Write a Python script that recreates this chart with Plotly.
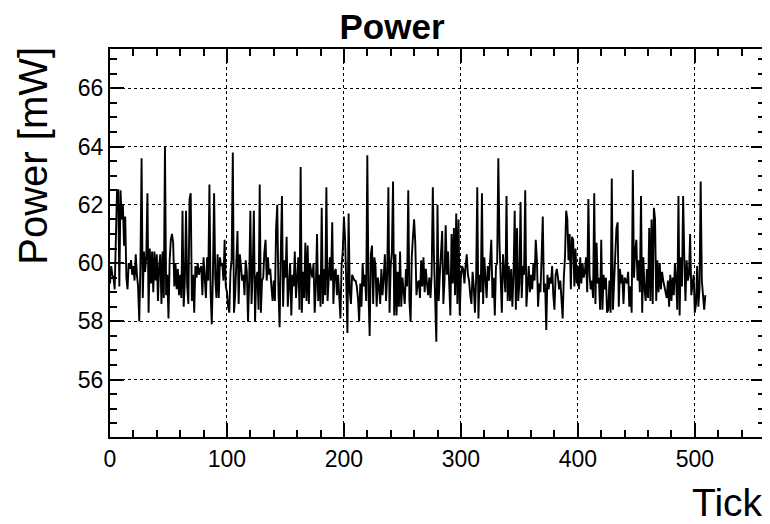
import plotly.graph_objects as go

# power readings per tick (10 per row)
power_mw = [
    59.3, 59.9, 59.6, 59.5, 59.1, 60.4, 62.5, 62.5, 59.2, 62.5,
    61.5, 62.0, 60.6, 61.6, 59.5, 59.1, 60.0, 59.8, 60.1, 59.6,
    59.9, 59.4, 60.3, 59.6, 59.2, 58.0, 59.9, 63.6, 58.8, 60.4,
    59.7, 60.2, 62.4, 58.3, 60.5, 59.3, 60.4, 59.0, 60.4, 59.4,
    60.3, 58.7, 59.9, 60.3, 58.6, 60.4, 58.8, 64.0, 58.9, 59.6,
    58.1, 60.1, 60.8, 61.0, 60.7, 59.2, 60.0, 59.1, 59.8, 58.9,
    59.6, 58.8, 61.8, 58.5, 59.4, 61.8, 59.2, 58.6, 62.2, 62.4,
    58.7, 59.6, 58.3, 59.9, 59.5, 60.0, 59.6, 59.8, 59.9, 58.9,
    60.2, 59.5, 58.8, 60.2, 59.4, 62.7, 59.0, 57.9, 59.6, 62.4,
    59.5, 58.8, 60.3, 58.8, 60.2, 59.9, 60.0, 59.4, 60.8, 59.2,
    59.0, 58.5, 58.3, 59.7, 60.1, 63.8, 58.3, 58.9, 60.4, 61.1,
    58.6, 60.3, 59.9, 59.4, 59.6, 58.9, 60.1, 59.7, 58.0, 59.4,
    61.8, 58.6, 59.7, 61.8, 58.0, 59.5, 59.7, 58.4, 62.7, 58.3,
    59.4, 59.5, 60.4, 60.8, 59.4, 60.2, 59.6, 59.8, 59.2, 58.7,
    59.4, 58.7, 61.2, 62.0, 59.1, 57.8, 60.3, 62.3, 58.5, 60.1,
    59.5, 60.9, 58.5, 59.4, 60.0, 58.2, 59.6, 59.2, 60.4, 58.8,
    59.8, 60.2, 58.4, 63.3, 58.3, 59.7, 58.8, 60.7, 58.7, 60.6,
    58.6, 60.0, 59.7, 59.5, 60.0, 58.3, 59.2, 61.0, 58.7, 59.6,
    58.5, 61.9, 58.6, 59.8, 58.9, 62.6, 58.7, 59.5, 60.2, 59.4,
    61.4, 58.6, 59.7, 59.8, 58.9, 59.6, 58.8, 58.1, 59.9, 60.4,
    61.6, 60.8, 59.3, 57.6, 61.7, 59.0, 58.6, 59.6, 59.5, 59.4,
    59.4, 59.2, 58.8, 58.0, 59.3, 58.5, 60.0, 59.2, 59.6, 58.7,
    63.7, 59.0, 57.5, 60.3, 60.6, 58.6, 60.2, 59.9, 58.5, 59.5,
    59.2, 58.6, 59.8, 58.9, 59.5, 60.3, 58.7, 59.6, 62.6, 58.3,
    59.9, 60.4, 62.8, 58.2, 60.3, 58.2, 59.7, 58.5, 60.4, 58.5,
    59.5, 59.0, 58.6, 59.8, 59.2, 62.5, 58.7, 58.0, 60.2, 60.9,
    61.5, 60.7, 58.9, 59.3, 59.4, 58.8, 60.1, 59.2, 60.2, 59.0,
    59.8, 59.3, 58.9, 59.5, 58.8, 59.6, 62.6, 60.2, 58.1, 57.3,
    62.0, 58.7, 59.6, 60.2, 61.1, 58.6, 59.4, 61.3, 59.6, 60.4,
    59.2, 58.2, 61.0, 59.3, 61.2, 58.9, 61.7, 58.6, 61.5, 58.2,
    59.5, 59.9, 59.8, 59.3, 59.9, 60.3, 59.6, 59.4, 58.9, 58.6,
    59.7, 59.2, 58.3, 59.4, 62.6, 58.1, 59.6, 59.0, 62.4, 58.6,
    60.2, 59.6, 58.8, 59.9, 59.4, 60.1, 60.8, 58.8, 59.5, 58.2,
    59.9, 60.0, 63.6, 60.7, 59.2, 58.3, 60.3, 59.4, 59.0, 62.3,
    58.7, 59.9, 58.7, 59.8, 58.5, 59.6, 61.8, 58.4, 61.2, 58.7,
    59.3, 62.1, 58.8, 59.9, 59.6, 62.5, 58.5, 59.2, 59.9, 59.0,
    59.6, 59.1, 60.0, 59.4, 60.8, 60.1, 58.5, 59.3, 59.0, 60.2,
    61.6, 59.0, 59.3, 57.7, 59.6, 59.1, 59.5, 59.3, 59.9, 58.9,
    58.4, 59.6, 59.8, 59.5, 59.1, 59.4, 58.6, 58.1, 59.5, 60.2,
    61.8, 61.5, 60.1, 61.0, 59.1, 60.9, 60.8, 59.2, 60.5, 59.3,
    59.9, 59.1, 60.2, 59.3, 60.0, 59.5, 59.7, 60.2, 59.0, 62.2,
    59.6, 59.1, 59.4, 58.8, 62.4, 58.6, 60.7, 59.3, 59.5, 58.4,
    60.8, 58.4, 59.6, 59.1, 59.5, 58.3, 58.4, 59.4, 58.3, 62.9,
    58.4, 59.6, 60.3, 61.2, 61.4, 58.5, 59.8, 59.3, 59.6, 58.6,
    59.5, 59.4, 59.3, 59.7, 58.5, 59.2, 58.3, 63.2, 59.5, 60.4,
    60.8, 59.4, 60.1, 59.0, 62.3, 58.3, 60.2, 59.1, 58.7, 59.8,
    58.8, 61.2, 58.7, 61.5, 58.6, 61.9, 61.5, 58.7, 60.1, 59.0,
    60.0, 59.1, 59.7, 59.4, 59.2, 58.9, 58.8, 59.4, 58.5, 59.6,
    58.7, 59.5, 58.9, 60.0, 59.4, 58.4, 62.3, 58.2, 60.2, 59.2,
    62.3, 60.2, 58.7, 60.1, 59.4, 59.6, 61.0, 58.9, 59.3, 59.6,
    58.3, 58.6, 59.9, 58.5, 59.1, 62.8, 59.4, 58.8, 58.4, 58.9,
]
ticks = list(range(len(power_mw)))

x_range = [0, 560]
y_range = [54.03, 67.35]

FONT = "Liberation Sans"


def create_figure(title):
    # page body has an 8px margin, so the figure is 8px smaller than the window
    fig = go.Figure()
    fig.update_layout(width = 762, height = 516, template = "simple_white",
                      title = dict(text = "<b>" + title + "</b>", x = 0.504, xanchor = "center",
                                   y = 0.988, yanchor = "top", pad = dict(t = 0, b = 0),
                                   font = dict(family = FONT, size = 35, color = "black")))
    return fig


def style_axis(ax, rng, dtick, minor_dtick):
    ax.update(range = rng, dtick = dtick, showgrid = True, gridcolor = "black", griddash = "dot",
              gridwidth = 1, showline = True, linecolor = "black", linewidth = 2, mirror = "allticks",
              ticks = "inside", ticklen = 14, tickwidth = 1.5, tickcolor = "black",
              minor = dict(dtick = minor_dtick, ticks = "inside", ticklen = 7, tickwidth = 1.5,
                           tickcolor = "black", showgrid = False),
              zeroline = False, automargin = False,
              tickfont = dict(family = FONT, size = 23, color = "black"))


def plot(fig):
    fig.add_trace(go.Scatter(x = ticks, y = power_mw, mode = "lines",
                             line = dict(color = "black", width = 1.9), showlegend = False))


def touch_up(fig):
    fig.update_layout(margin = dict(l = 102, r = 5, t = 41, b = 87))
    fig.update_layout(paper_bgcolor = "white", plot_bgcolor = "white")
    style_axis(fig.layout.xaxis, x_range, 100, 20)
    style_axis(fig.layout.yaxis, y_range, 2, 0.5)
    fig.update_xaxes(ticklabelstandoff = 0)
    fig.update_yaxes(ticklabelstandoff = 0)
    fig.add_annotation(text = "Tick", xref = "paper", yref = "paper", x = 1.0, y = -0.108,
                       xanchor = "right", yanchor = "top", showarrow = False,
                       font = dict(family = FONT, size = 39, color = "black"))
    fig.add_annotation(text = "Power [mW]", xref = "paper", yref = "paper", x = -0.117, y = 1.012,
                       xanchor = "center", yanchor = "top", textangle = -90, showarrow = False,
                       font = dict(family = FONT, size = 40, color = "black"))


def main():
    fig = create_figure("Power")
    plot(fig)
    touch_up(fig)
    fig.write_html("out.html")


main()
